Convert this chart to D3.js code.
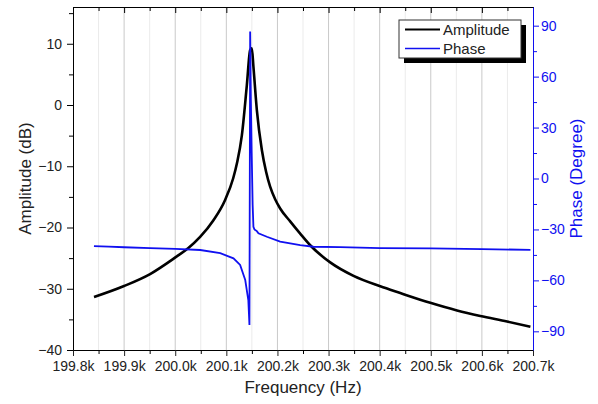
<!DOCTYPE html>
<html>
<head>
<meta charset="utf-8">
<script src="https://cdn.jsdelivr.net/npm/d3@7"></script>
<style>
  body { margin: 0; background: #fff; }
  svg { font-family: "Liberation Sans", Arial, sans-serif; }
</style>
</head>
<body>
<svg id="chart" width="598" height="404"></svg>
<script>
// Amplitude trace (frequency in kHz, amplitude in dB)
const ampFreq = [199.8411, 199.8999, 199.9508, 200.0017, 200.0252, 200.0487, 200.0741, 200.0976, 200.1133, 200.1211,
  200.1303, 200.1401, 200.1466, 200.1499, 200.1530, 200.1597, 200.1695, 200.1779, 200.1857, 200.1955,
  200.2053, 200.2249, 200.2445, 200.2641, 200.3032, 200.3489, 200.4011, 200.4403, 200.4990, 200.5513,
  200.5969, 200.6492, 200.6949];
const ampValues = [-31.35, -29.55, -27.6, -24.8, -23.4, -21.55, -18.9, -15.5, -12.0, -9.4,
  -5.0, 3.2, 8.98, 9.26, 6.25, -0.82, -7.35, -10.94, -13.34, -15.4,
  -16.9, -19.0, -21.0, -22.9, -25.7, -27.9, -29.6, -30.7, -32.3, -33.55,
  -34.45, -35.35, -36.2];

// Phase trace (frequency in kHz, phase in degree)
const phaseFreq = [199.841, 199.870, 199.900, 199.951, 200.000, 200.049, 200.088, 200.114, 200.127, 200.137,
  200.143, 200.1452, 200.1466, 200.148, 200.1495, 200.1515, 200.153, 200.155, 200.1597, 200.1628,
  200.1793, 200.2053, 200.2445, 200.2705, 200.3228, 200.4011, 200.500, 200.600, 200.695];
const phaseValues = [-39.8, -40.1, -40.5, -41.0, -41.5, -42.1, -44.0, -47.0, -50.9, -59.8,
  -71.6, -86.3, 86.5, 46.2, 16.8, -15.6, -28.4, -30.0, -31.0, -32.3,
  -34.3, -37.2, -39.2, -40.2, -40.4, -41.0, -41.2, -41.6, -42.0];

// Tick values
const xTicks = [199.8, 199.9, 200.0, 200.1, 200.2, 200.3, 200.4, 200.5, 200.6, 200.7];
const ampTicks = [-40, -30, -20, -10, 0, 10];
const phaseTicks = [-90, -60, -30, 0, 30, 60, 90];

const CHART_WIDTH = 598;
const CHART_HEIGHT = 404;
const MARGIN = { left: 73, top: 7, right: 65, bottom: 54 };
const BLUE = '#1010f0';
const FONT = 14;

let svg = d3.select('#chart');
let plotRight = CHART_WIDTH - MARGIN.right;
let plotBottom = CHART_HEIGHT - MARGIN.bottom;

// Scales
var xScale = d3.scaleLinear()
  .domain([199.8, 200.7])
  .range([MARGIN.left, plotRight]);
var yAmp = d3.scaleLinear()
  .domain([-40, 16])
  .range([plotBottom, MARGIN.top]);
var yPhase = d3.scaleLinear()
  .domain([-101, 101])
  .range([plotBottom, MARGIN.top]);

// minor ticks sit halfway between the major ones
let mids = arr => arr.slice(1).map((d, i) => +((d + arr[i]) / 2).toFixed(3));
let xMinor = mids(xTicks);
let ampMinor = mids(ampTicks).concat([15]);
let phaseMinor = mids(phaseTicks);

// Vertical grid lines
svg.append('g').selectAll('line')
  .data(xMinor)
  .join('line')
  .attr('x1', d => xScale(d)).attr('x2', d => xScale(d))
  .attr('y1', MARGIN.top).attr('y2', plotBottom)
  .attr('stroke', '#ebebeb').attr('stroke-width', 1);
svg.append('g').selectAll('line')
  .data(xTicks.slice(1, -1))
  .join('line')
  .attr('x1', d => xScale(d)).attr('x2', d => xScale(d))
  .attr('y1', MARGIN.top).attr('y2', plotBottom)
  .attr('stroke', '#c9c9c9').attr('stroke-width', 1);

// Clip for the traces
svg.append('clipPath').attr('id', 'plot-clip')
  .append('rect')
  .attr('x', MARGIN.left).attr('y', MARGIN.top)
  .attr('width', plotRight - MARGIN.left).attr('height', plotBottom - MARGIN.top);

// Line generators
var ampLine = d3.line()
  .x((d, i) => xScale(ampFreq[i]))
  .y(d => yAmp(d))
  .curve(d3.curveMonotoneX);
var phaseLine = d3.line()
  .x((d, i) => xScale(phaseFreq[i]))
  .y(d => yPhase(d));

let lines = svg.append('g').attr('clip-path', 'url(#plot-clip)');
lines.append('path')
  .datum(ampValues)
  .attr('fill', 'none')
  .attr('stroke', '#000')
  .attr('stroke-width', 2.6)
  .attr('d', ampLine);
lines.append('path')
  .datum(phaseValues)
  .attr('fill', 'none')
  .attr('stroke', BLUE)
  .attr('stroke-width', 1.8)
  .attr('d', phaseLine);

// Helper to style an axis group
function styleAxis(g, color) {
  g.attr('font-size', FONT)
    .attr('font-family', '"Liberation Sans", Arial, sans-serif');
  g.selectAll('line').attr('stroke', color);
  g.selectAll('path').attr('stroke', color);
  g.selectAll('text').attr('fill', color);
}

// Bottom axis
let xAxis = svg.append('g')
  .attr('transform', `translate(0, ${plotBottom})`)
  .call(d3.axisBottom(xScale).tickValues(xTicks).tickSize(6).tickPadding(5)
    .tickFormat(d => d3.format('.1f')(d) + 'k'));
styleAxis(xAxis, '#222');
xAxis.select('.domain').attr('stroke', '#000');
svg.append('g')
  .attr('transform', `translate(0, ${plotBottom})`)
  .call(d3.axisBottom(xScale).tickValues(xMinor).tickSize(4).tickFormat(''))
  .call(g => g.select('.domain').remove())
  .call(g => g.selectAll('line').attr('stroke', '#000'));

// Top frame with inward ticks
svg.append('g')
  .attr('transform', `translate(0, ${MARGIN.top})`)
  .call(d3.axisTop(xScale).tickValues(xTicks).tickSizeInner(-6).tickSizeOuter(0).tickFormat(''))
  .call(g => g.selectAll('line,path').attr('stroke', '#000'));
svg.append('g')
  .attr('transform', `translate(0, ${MARGIN.top})`)
  .call(d3.axisTop(xScale).tickValues(xMinor).tickSize(-4).tickFormat(''))
  .call(g => g.select('.domain').remove())
  .call(g => g.selectAll('line').attr('stroke', '#000'));

// Left axis (amplitude)
let leftAxis = svg.append('g')
  .attr('transform', `translate(${MARGIN.left}, 0)`)
  .call(d3.axisLeft(yAmp).tickValues(ampTicks).tickSizeInner(6).tickSizeOuter(0).tickPadding(5));
styleAxis(leftAxis, '#222');
leftAxis.selectAll('line,path').attr('stroke', '#000');
svg.append('g')
  .attr('transform', `translate(${MARGIN.left}, 0)`)
  .call(d3.axisLeft(yAmp).tickValues(ampMinor).tickSize(4).tickFormat(''))
  .call(g => g.select('.domain').remove())
  .call(g => g.selectAll('line').attr('stroke', '#000'));

// Right axis (phase)
let rightAxis = svg.append('g')
  .attr('transform', `translate(${plotRight}, 0)`)
  .call(d3.axisRight(yPhase).tickValues(phaseTicks).tickSizeInner(6).tickSizeOuter(0).tickPadding(2));
styleAxis(rightAxis, BLUE);
svg.append('g')
  .attr('transform', `translate(${plotRight}, 0)`)
  .call(d3.axisRight(yPhase).tickValues(phaseMinor).tickSize(4).tickFormat(''))
  .call(g => g.select('.domain').remove())
  .call(g => g.selectAll('line').attr('stroke', BLUE));

// Axis titles
svg.append('text')
  .text('Frequency (Hz)')
  .attr('x', (MARGIN.left + plotRight) / 2)
  .attr('y', 393)
  .attr('text-anchor', 'middle')
  .attr('font-size', 17)
  .attr('fill', '#222');
svg.append('text')
  .text('Amplitude (dB)')
  .attr('text-anchor', 'middle')
  .attr('font-size', 17)
  .attr('fill', '#222')
  .attr('transform', `translate(31, ${(MARGIN.top + plotBottom) / 2}) rotate(-90)`);
svg.append('text')
  .text('Phase (Degree)')
  .attr('text-anchor', 'middle')
  .attr('font-size', 17)
  .attr('fill', BLUE)
  .attr('transform', `translate(582, ${(MARGIN.top + plotBottom) / 2}) rotate(-90)`);

// Legend with drop shadow
let legend = svg.append('g').attr('transform', 'translate(399, 20)');
legend.append('rect')
  .attr('x', 5).attr('y', 5).attr('width', 122).attr('height', 38)
  .attr('fill', '#000');
legend.append('rect')
  .attr('x', 0).attr('y', 0).attr('width', 122).attr('height', 38)
  .attr('fill', '#fff').attr('stroke', '#333').attr('stroke-width', 1);
let legendItems = [
  { name: 'Amplitude', color: '#000', width: 2.2 },
  { name: 'Phase', color: BLUE, width: 1.6 }
];
legend.selectAll('g.item')
  .data(legendItems)
  .join('g')
  .attr('class', 'item')
  .attr('transform', (d, i) => `translate(0, ${9.5 + i * 19})`)
  .each(function (d) {
    let g = d3.select(this);
    g.append('line')
      .attr('x1', 6).attr('x2', 41)
      .attr('stroke', d.color).attr('stroke-width', d.width);
    g.append('text')
      .text(d.name)
      .attr('x', 44).attr('dy', '0.35em')
      .attr('font-size', 15)
      .attr('fill', '#222');
  });
</script>
</body>
</html>
